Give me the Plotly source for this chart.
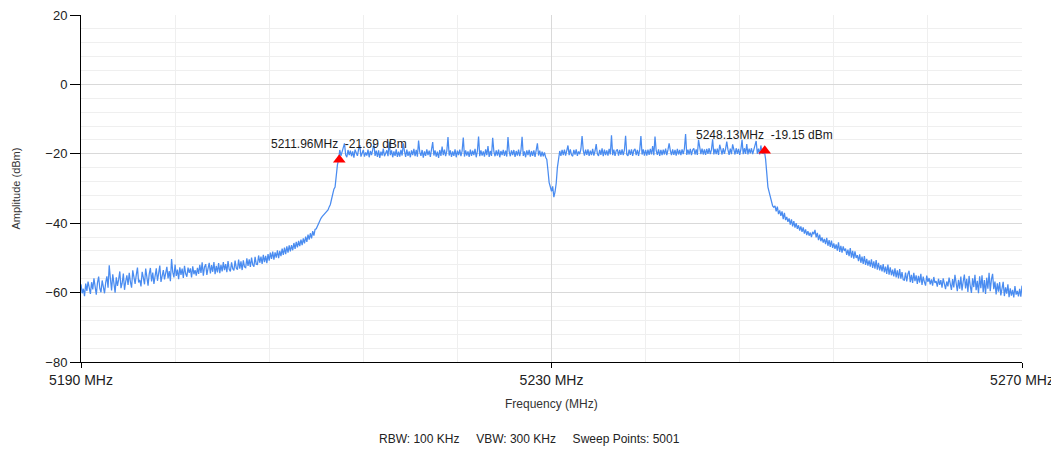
import numpy as np
import plotly.graph_objects as go

# Frequency span (MHz) and trace amplitudes (dBm) (0.1 MHz steps)
f_start = 5190.0
f_stop = 5270.0
amplitude_dbm = [
    -57.6, -60.2, -58.9, -61.0, -57.4, -59.5, -56.8, -58.2, -60.4, -57.0,
    -59.1, -55.9, -58.3, -60.6, -57.2, -55.4, -58.8, -59.9, -56.5, -58.0,
    -60.2, -57.1, -55.3, -58.6, -52.1, -56.0, -59.4, -54.7, -57.9, -60.0,
    -55.6, -58.1, -56.2, -53.9, -58.7, -57.3, -54.5, -59.2, -56.8, -55.0,
    -57.8, -54.3, -56.9, -58.6, -53.6, -55.8, -57.5, -54.9, -52.8, -57.1,
    -56.3, -58.2, -54.0, -55.7, -57.6, -53.1, -56.4, -58.0, -54.6, -52.9,
    -56.8, -54.2, -57.5, -55.1, -53.0, -56.6, -54.4, -52.2, -56.9, -55.3,
    -53.5, -56.2, -54.8, -52.6, -55.9, -53.8, -56.7, -50.3, -54.1, -55.6,
    -51.9, -55.2, -53.4, -56.1, -52.7, -54.9, -53.1, -55.8, -52.3, -54.6,
    -55.4, -52.8, -54.3, -53.0, -55.6, -52.4, -54.7, -53.5, -55.1, -52.9,
    -54.6, -52.0, -54.3, -51.3, -55.1, -52.6, -51.8, -54.9, -53.0, -51.4,
    -54.5, -52.1, -54.0, -51.2, -54.7, -52.3, -54.2, -51.5, -54.4, -52.0,
    -53.9, -51.2, -53.5, -51.8, -54.1, -50.9, -53.3, -53.9, -51.3, -53.1,
    -53.6, -50.8, -52.9, -53.4, -50.5, -53.1, -51.0, -53.5, -50.7, -52.6,
    -52.8, -50.1, -52.3, -50.4, -52.6, -49.9, -52.0, -52.5, -49.7, -51.8,
    -51.9, -49.3, -51.4, -49.6, -51.7, -49.1, -51.2, -49.4, -51.5, -48.9,
    -50.8, -48.5, -50.3, -48.2, -50.5, -48.4, -49.9, -47.8, -50.1, -48.0,
    -49.5, -47.3, -49.1, -47.0, -48.9, -46.7, -48.5, -46.4, -48.1, -46.3,
    -47.8, -45.7, -47.4, -45.4, -47.0, -45.1, -46.6, -44.7, -46.3, -44.4,
    -45.8, -43.9, -45.4, -43.3, -44.7, -42.9, -44.4, -42.3, -43.6, -41.8,
    -41.6, -40.7, -39.8, -39.0, -38.6, -38.1, -37.7, -37.2, -36.9, -36.5,
    -36.2, -35.3, -34.6, -33.1, -31.3, -30.2, -29.6, -25.8, -23.2, -21.7,
    -18.9, -20.6, -19.2, -18.4, -17.0, -20.3, -21.0, -18.9, -20.4, -19.1,
    -20.7, -19.3, -21.1, -18.8, -19.9, -20.6, -18.7, -17.5, -20.8, -19.4,
    -18.9, -20.8, -19.6, -20.5, -18.8, -21.0, -19.2, -20.4, -18.6, -17.2,
    -20.6, -19.1, -20.9, -19.0, -21.2, -19.4, -20.5, -18.5, -20.7, -19.6,
    -19.0, -20.7, -16.5, -20.4, -19.0, -21.0, -19.3, -20.6, -18.7, -20.9,
    -19.4, -20.8, -18.9, -20.5, -17.0, -19.2, -20.9, -18.8, -20.6, -19.3,
    -21.0, -19.0, -20.4, -18.6, -20.7, -18.9, -20.8, -16.2, -19.5, -20.6,
    -18.9, -21.1, -19.3, -20.6, -18.7, -20.4, -19.1, -20.9, -18.6, -16.6,
    -20.5, -19.0, -20.8, -19.4, -21.2, -18.9, -20.6, -17.9, -20.4, -18.8,
    -20.7, -19.2, -15.2, -20.5, -19.0, -20.9, -19.3, -20.6, -18.7, -21.0,
    -19.1, -20.4, -18.8, -20.7, -19.2, -15.3, -20.8, -19.0, -20.5, -19.3,
    -20.9, -18.8, -20.6, -19.1, -20.4, -18.6, -21.0, -19.2, -15.0, -20.7,
    -19.0, -20.5, -19.3, -20.8, -18.7, -20.4, -17.8, -20.9, -19.2, -20.6,
    -15.4, -19.3, -20.7, -19.0, -20.5, -18.8, -21.0, -19.2, -20.4, -18.9,
    -20.6, -19.1, -20.8, -15.2, -19.3, -20.7, -19.0, -20.4, -18.9, -20.9,
    -19.2, -20.5, -18.8, -20.7, -19.1, -15.1, -20.6, -19.3, -21.0, -19.0,
    -20.4, -18.9, -20.8, -19.2, -20.6, -19.0, -20.9, -19.3, -17.0, -20.5,
    -19.1, -20.8, -19.4, -20.7, -19.6, -21.0, -21.6, -24.8, -28.3, -29.5,
    -30.8, -29.4, -32.5, -31.0, -28.5, -24.0, -20.8, -19.2, -20.6, -18.9,
    -20.4, -18.8, -20.5, -19.0, -17.6, -20.4, -18.7, -20.3, -20.7, -18.9,
    -20.2, -18.7, -20.6, -19.3, -20.1, -18.6, -14.9, -19.0, -20.5, -18.8,
    -20.3, -18.7, -20.6, -19.1, -20.4, -18.6, -20.5, -19.2, -17.2, -20.0,
    -20.6, -18.9, -20.3, -18.4, -20.7, -18.8, -20.4, -19.0, -20.5, -18.6,
    -20.2, -14.7, -20.4, -18.8, -20.6, -19.1, -18.7, -20.5, -18.9, -20.3,
    -18.7, -20.4, -18.9, -14.8, -20.2, -20.6, -18.8, -20.3, -18.7, -20.6,
    -19.0, -18.6, -20.4, -18.9, -20.6, -18.8, -14.9, -20.2, -18.7, -20.5,
    -18.9, -20.5, -18.8, -20.3, -18.6, -20.2, -17.8, -20.4, -15.0, -19.1,
    -20.3, -18.7, -20.6, -18.9, -20.4, -18.8, -20.2, -18.5, -20.4, -18.9,
    -17.0, -19.0, -20.4, -18.7, -20.3, -18.9, -20.5, -18.6, -20.2, -18.9,
    -20.4, -18.7, -20.1, -18.5, -14.3, -20.3, -18.8, -20.2, -18.6, -20.4,
    -18.9, -18.4, -20.2, -18.7, -20.3, -16.0, -18.8, -20.1, -18.5, -20.2,
    -18.7, -20.3, -18.6, -20.0, -18.4, -20.1, -18.8, -15.8, -20.2, -18.6,
    -20.1, -18.5, -20.3, -17.4, -18.7, -20.2, -18.4, -20.0, -18.6, -16.5,
    -18.8, -20.3, -18.5, -20.1, -17.3, -18.7, -20.2, -18.4, -20.0, -18.6,
    -20.3, -18.7, -16.0, -20.1, -18.4, -20.0, -17.2, -20.2, -18.5, -19.9,
    -18.4, -20.1, -18.6, -17.1, -16.3, -20.0, -18.5, -20.2, -17.6, -19.8,
    -19.9, -19.2, -21.5, -25.5, -29.6, -31.0, -32.6, -33.4, -35.0, -35.4,
    -35.0, -36.6, -35.2, -37.4, -36.3, -37.9, -36.6, -38.8, -37.0, -39.1,
    -38.2, -39.6, -38.6, -40.4, -38.9, -40.9, -39.4, -41.3, -40.0, -41.6,
    -40.6, -42.1, -40.9, -42.5, -41.2, -43.0, -41.8, -43.4, -42.3, -43.6,
    -42.7, -44.0, -42.5, -43.2, -41.9, -44.1, -42.8, -44.9, -43.3, -45.2,
    -44.1, -45.6, -44.5, -46.0, -44.2, -46.5, -44.9, -46.8, -45.0, -47.1,
    -45.8, -47.4, -46.1, -47.9, -45.5, -48.3, -46.5, -48.5, -46.7, -48.0,
    -47.3, -49.1, -47.6, -49.5, -47.2, -49.9, -48.0, -50.2, -48.1, -50.0,
    -49.2, -50.9, -49.0, -51.4, -49.6, -51.7, -49.5, -52.0, -50.3, -52.2,
    -50.7, -52.5, -50.4, -52.9, -51.0, -53.1, -50.6, -53.4, -51.4, -53.6,
    -52.1, -53.9, -51.8, -54.2, -52.5, -54.6, -51.9, -54.8, -52.7, -55.0,
    -53.4, -55.3, -53.0, -55.6, -53.6, -55.9, -53.2, -56.0, -54.1, -56.3,
    -56.4, -54.2, -56.8, -54.6, -53.7, -57.0, -54.9, -57.2, -54.3, -56.7,
    -55.0, -57.5, -55.2, -57.1, -54.6, -57.8, -55.4, -56.9, -58.0, -55.1,
    -56.9, -55.8, -57.6, -56.2, -58.0, -55.5, -57.2, -56.7, -58.3, -56.0,
    -57.8, -56.4, -58.6, -55.9, -57.4, -59.0, -56.8, -58.2, -55.7, -57.9,
    -59.2, -56.1, -58.5, -54.9, -57.7, -59.6, -56.3, -58.9, -55.4, -59.4,
    -56.8, -54.8, -58.8, -56.0, -59.8, -55.2, -58.1, -60.1, -55.9, -58.4,
    -54.9, -59.3, -56.6, -60.2, -55.3, -58.7, -55.0, -59.9, -56.4, -60.4,
    -55.7, -58.9, -54.3, -59.6, -56.2, -54.6, -59.0, -56.8, -60.5, -57.3,
    -59.7, -57.0, -60.8, -58.2, -56.9, -61.0, -58.5, -60.3, -57.6, -61.3,
    -58.8, -60.9, -59.2, -61.4, -58.1, -60.6, -59.5, -61.1, -58.9, -61.2,
    -58.0,
]
assert len(amplitude_dbm) == 801, len(amplitude_dbm)
frequency_mhz = np.linspace(f_start, f_stop, len(amplitude_dbm))

# Peak markers
marker_freqs = [5211.96, 5248.13]
marker_vals = [-21.69, -19.15]
marker_labels = [f"{f:.2f}MHz\u00a0\u00a0{v:.2f} dBm" for f, v in zip(marker_freqs, marker_vals)]

x_title = "Frequency (MHz)"
y_title = "Amplitude (dBm)"
footer_text = "RBW: 100 KHz\u00a0\u00a0\u00a0\u00a0\u00a0VBW: 300 KHz\u00a0\u00a0\u00a0\u00a0\u00a0Sweep Points: 5001"

FONT = "Liberation Sans, Arial, sans-serif"
OFF = 8                      # page body margin of the html page
W, H = 1059 - OFF, 450 - OFF
L, T = 81 - OFF, 15 - OFF
R = W - (1022 - OFF)
B = H - (362 - OFF)
PW, PH = W - L - R, H - T - B
PB = H - B                   # plot bottom in figure pixels


def px_x(xabs):
    return (xabs - OFF - L) / PW


def px_y(yabs):
    return (PB - (yabs - OFF)) / PH


fig = go.Figure()
fig.add_trace(go.Scatter(
    x=frequency_mhz, y=amplitude_dbm, mode="lines",
    line=dict(color="#4a8cf0", width=1.25),
    hoverinfo="skip", showlegend=False,
))
fig.add_trace(go.Scatter(
    x=marker_freqs, y=marker_vals, mode="markers",
    marker=dict(symbol="triangle-up", size=11, color="#ff0000"),
    showlegend=False,
))
for f, v, t in zip(marker_freqs, marker_vals, marker_labels):
    fig.add_annotation(x=f, y=v, text=t, showarrow=False, yshift=16,
                       xanchor="center", yanchor="middle",
                       font=dict(family=FONT, size=12, color="#1a1a1a"))

fig.add_annotation(xref="paper", yref="paper", x=0.5, y=px_y(404),
                   xanchor="center", yanchor="middle",
                   text=x_title, showarrow=False,
                   font=dict(family=FONT, size=12, color="#333333"))
fig.add_annotation(xref="paper", yref="paper", x=px_x(15), y=0.5,
                   xanchor="center", yanchor="middle",
                   text=y_title, showarrow=False, textangle=-90,
                   font=dict(family=FONT, size=11, color="#333333"))
fig.add_annotation(xref="paper", yref="paper", x=px_x(529.5), y=px_y(439),
                   xanchor="center", yanchor="middle",
                   text=footer_text, showarrow=False,
                   font=dict(family=FONT, size=12, color="#222222"))

fig.update_layout(
    width=W, height=H,
    margin=dict(l=L, r=R, t=T, b=B),
    paper_bgcolor="white", plot_bgcolor="white",
    font=dict(family=FONT, size=12, color="#222222"),
    xaxis=dict(
        range=[f_start, f_stop], tickmode="linear", tick0=5190, dtick=40,
        ticksuffix=" MHz", showgrid=True, gridcolor="#d9d9d9", gridwidth=1,
        minor=dict(tick0=5190, dtick=8, showgrid=True, gridcolor="#efefef", ticks=""),
        showline=True, linecolor="#000000", linewidth=1,
        ticks="outside", ticklen=5, tickcolor="#000000",
        tickfont=dict(family=FONT, size=14, color="#222222"),
        ticklabeloverflow="allow",
        zeroline=False, automargin=False,
    ),
    yaxis=dict(
        range=[-80, 20], tickmode="linear", tick0=-80, dtick=20,
        showgrid=True, gridcolor="#d9d9d9", gridwidth=1,
        minor=dict(tick0=-80, dtick=4, showgrid=True, gridcolor="#efefef", ticks=""),
        showline=True, linecolor="#000000", linewidth=1,
        ticks="outside", ticklen=10, tickcolor="#000000",
        tickfont=dict(family=FONT, size=13, color="#222222"),
        ticklabeloverflow="allow",
        zeroline=False, automargin=False,
    ),
)

fig.write_html("out.html")
